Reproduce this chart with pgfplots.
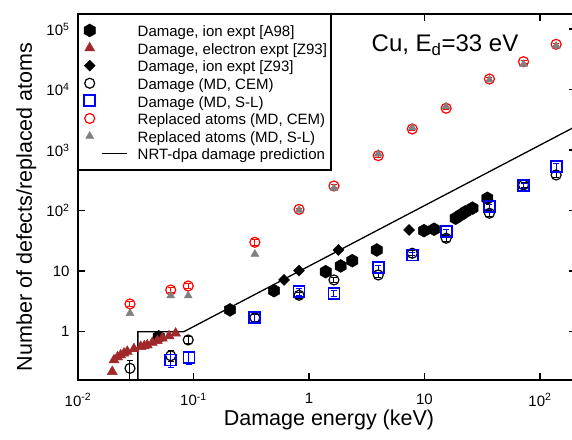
\documentclass[border=0pt]{standalone}
\usepackage{pgfplots}
\pgfplotsset{compat=1.18}
\usepackage{fontspec}
\setmainfont{Liberation Sans}
\definecolor{dred}{RGB}{160,40,40}
\definecolor{mgray}{RGB}{128,128,128}
\definecolor{mblue}{RGB}{0,0,255}
\definecolor{mred}{RGB}{255,0,0}

\pgfdeclareplotmark{hexa}{%
  \pgfpathmoveto{\pgfqpointpolar{90}{\pgfplotmarksize}}%
  \pgfpathlineto{\pgfqpointpolar{150}{\pgfplotmarksize}}%
  \pgfpathlineto{\pgfqpointpolar{210}{\pgfplotmarksize}}%
  \pgfpathlineto{\pgfqpointpolar{270}{\pgfplotmarksize}}%
  \pgfpathlineto{\pgfqpointpolar{330}{\pgfplotmarksize}}%
  \pgfpathlineto{\pgfqpointpolar{30}{\pgfplotmarksize}}%
  \pgfpathclose
  \pgfusepathqfillstroke}
\pgfdeclareplotmark{rhomb}{%
  \pgfpathmoveto{\pgfqpoint{0pt}{\pgfplotmarksize}}%
  \pgfpathlineto{\pgfqpoint{\pgfplotmarksize}{0pt}}%
  \pgfpathlineto{\pgfqpoint{0pt}{-\pgfplotmarksize}}%
  \pgfpathlineto{\pgfqpoint{-\pgfplotmarksize}{0pt}}%
  \pgfpathclose
  \pgfusepathqfillstroke}

\pgfplotsset{
  mdbars/.style={error bars/.cd, y dir=both, y explicit relative,
    error bar style={line width=1pt},
    error mark options={rotate=90, mark size=3pt, line width=1pt}},
  marklegend/.style={legend image code/.code={\path[draw=none,fill=none] (0pt,-5pt) rectangle (55pt,5pt);
    \draw[##1] plot coordinates {(10pt,0pt)};}},
  linelegend/.style={legend image code/.code={\path[draw=none,fill=none] (0pt,-5pt) rectangle (55pt,5pt);
    \draw[##1] (22pt,0pt) -- (47pt,0pt);}},
}

\begin{document}
\begin{tikzpicture}
\begin{axis}[
  scale only axis, width=498pt, height=366pt,
  xmode=log, ymode=log,
  xmin=0.01, xmax=205, ymin=0.159, ymax=178000,
  xtick={0.01,0.1,1,10,100},
  xticklabels={10\textsuperscript{-2},10\textsuperscript{-1},1,10,10\textsuperscript{2}},
  ytick={1,10,100,1000,10000,100000},
  yticklabels={1,10,10\textsuperscript{2},10\textsuperscript{3},10\textsuperscript{4},10\textsuperscript{5}},
  xminorticks=false, yminorticks=false,
  tick align=inside,
  major tick length=7pt,
  every tick/.style={black, line width=1.4pt},
  axis line style={line width=1.4pt},
  ticklabel style={font=\fontsize{15}{18}\selectfont},
  xticklabel style={yshift=-10pt},
  yticklabel style={xshift=-5pt},
  xlabel={Damage energy (keV)},
  ylabel={Number of defects/replaced atoms},
  label style={font=\fontsize{21.5}{26}\selectfont},
  xlabel style={at={(axis description cs:0.504,-0.123)}, anchor=base},
  ylabel style={at={(axis description cs:-0.0924,0.473)}, anchor=base},
  legend cell align=left,
  legend style={name=leg, at={(0,1)}, anchor=north west, draw=black, line width=1.4pt,
    font=\fontsize{15}{18}\selectfont, inner xsep=1pt, inner ysep=7.5pt,
    row sep=1.1pt, nodes={inner xsep=3pt, inner ysep=1pt, text height=13.5pt, text depth=1pt}},
  marklegend,
]
% Damage, ion expt [A98]
\addplot[only marks, mark=hexa, mark size=6.5pt, black, fill=black, line width=0.4pt] coordinates {
(0.050,0.82) (0.207,2.29) (0.498,4.76) (1.395,9.8) (1.88,12.2) (2.37,14.9) (3.86,22.4)
(9.9,46.7) (12.1,49.3) (18.6,75) (20.6,85) (22.7,96) (26,110) (35,160)};
\addlegendentry{Damage, ion expt [A98]}
% Damage, electron expt [Z93]
\addplot[only marks, mark=triangle*, mark size=5.8pt, dred, fill=dred, line width=0.4pt] coordinates {
(0.0198,0.218) (0.0205,0.34) (0.0220,0.38) (0.0234,0.41) (0.0250,0.44) (0.0267,0.47)
(0.0305,0.52) (0.0349,0.565) (0.0375,0.58) (0.0398,0.60) (0.044,0.66) (0.0486,0.71)
(0.0537,0.78) (0.0614,0.85) (0.070,0.94)};
\addlegendentry{Damage, electron expt [Z93]}
% Damage, ion expt [Z93]
\addplot[only marks, mark=rhomb, mark size=5.5pt, black, fill=black, line width=0.4pt] coordinates {
(0.608,7.16) (0.819,10.2) (1.80,22.4) (7.35,48)};
\addlegendentry{Damage, ion expt [Z93]}
% Damage (MD, CEM)
\addplot[only marks, mark=o, mark size=5pt, black, line width=1.2pt, mdbars] coordinates {
(0.0282,0.248) +- (0,0.35)
(0.0635,0.40) +- (0,0.2)
(0.090,0.73) +- (0,0.12)
(0.340,1.70) +- (0,0.15)
(0.82,4.0) +- (0,0.12)
(1.645,7.16) +- (0,0.1)
(3.98,8.65) +- (0,0.1)
(7.84,19.8) +- (0,0.1)
(15.4,35) +- (0,0.1)
(36.5,90.6) +- (0,0.1)
(72,266) +- (0,0.1)
(138,389) +- (0,0.1)};
\addlegendentry{Damage (MD, CEM)}
% Damage (MD, S-L)
\addplot[only marks, mark=square, mark size=5.5pt, mblue, line width=1.8pt, mdbars] coordinates {
(0.0635,0.34) +- (0,0.25)
(0.0914,0.377) +- (0,0.25)
(0.340,1.73) +- (0,0.15)
(0.82,4.58) +- (0,0.12)
(1.645,4.31) +- (0,0.12)
(3.98,11.4) +- (0,0.1)
(7.84,18.5) +- (0,0.1)
(15.4,45) +- (0,0.1)
(36.5,116) +- (0,0.1)
(72,259) +- (0,0.1)
(138,533) +- (0,0.12)};
\addlegendentry{Damage (MD, S-L)}
% Replaced atoms (MD, CEM)
\addplot[only marks, mark=o, mark size=5pt, mred, line width=1.2pt, mdbars] coordinates {
(0.0282,2.87) +- (0,0.1)
(0.0635,4.89) +- (0,0.1)
(0.090,5.69) +- (0,0.1)
(0.340,30) +- (0,0.1)
(0.82,105) +- (0,0.05)
(1.645,256) +- (0,0.05)
(3.98,811) +- (0,0.05)
(7.84,2240) +- (0,0.05)
(15.4,4930) +- (0,0.05)
(36.5,15000) +- (0,0.05)
(72,29000) +- (0,0.05)
(138,56200) +- (0,0.05)};
\addlegendentry{Replaced atoms (MD, CEM)}
% Replaced atoms (MD, S-L)
\addplot[only marks, mark=triangle*, mark size=4.6pt, mgray, fill=mgray, line width=0.4pt] coordinates {
(0.0282,2.01) (0.0635,3.94) (0.090,3.94) (0.340,19.2) (0.82,102) (1.645,235) (3.98,865)
(7.84,2350) (15.4,5240) (36.5,14500) (72,26300) (138,52800)};
\addlegendentry{Replaced atoms (MD, S-L)}
% NRT-dpa
\addplot[black, line width=1.3pt, mark=none, linelegend]
  coordinates {(0.033,0.1) (0.033,1) (0.0825,1) (205,2485)};
\addlegendentry{NRT-dpa damage prediction}
\node[anchor=base, font=\fontsize{24}{28}\selectfont] at (axis description cs:0.737,0.897) {Cu, E\textsubscript{d}=33 eV};
\end{axis}
\draw[line width=1.4pt] (leg.south west) rectangle (leg.north east);
\pgfresetboundingbox
\path[use as bounding box] (-78pt,-59pt) rectangle (494pt,380pt);
\end{tikzpicture}
\end{document}
